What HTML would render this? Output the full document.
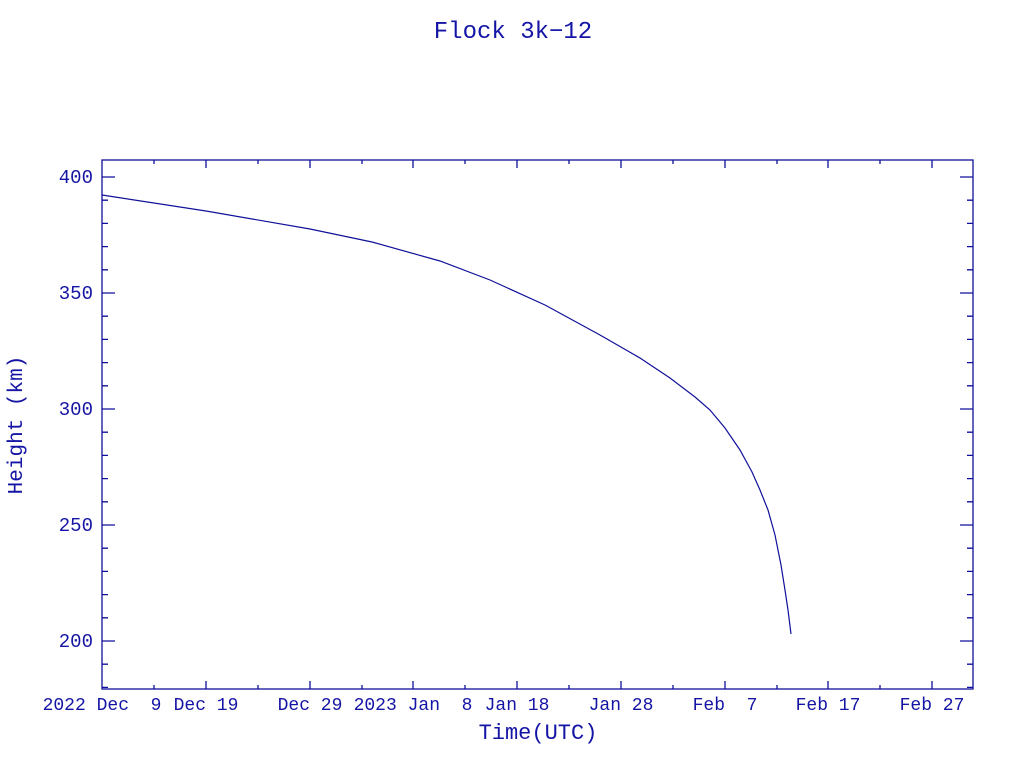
<!DOCTYPE html>
<html><head><style>body{margin:0;background:#fff}text{white-space:pre}</style></head><body>
<svg width="1024" height="768" xmlns="http://www.w3.org/2000/svg" xml:space="preserve" font-family="Liberation Mono, monospace" fill="#1515a5">
<text x="513" y="38" font-size="24" text-anchor="middle">Flock 3k−12</text>
<g stroke="#10109a" stroke-width="1.3" fill="none">
<rect x="102" y="160" width="871" height="529"/>
<path d="M154,689v-4M258,689v-4M362,689v-4M465,689v-4M569,689v-4M673,689v-4M777,689v-4M880,689v-4
M206,689v-8M310,689v-8M413,689v-8M517,689v-8M621,689v-8M725,689v-8M828,689v-8M932,689v-8
M154,160v4M258,160v4M362,160v4M465,160v4M569,160v4M673,160v4M777,160v4M880,160v4
M206,160v8M310,160v8M413,160v8M517,160v8M621,160v8M725,160v8M828,160v8M932,160v8"/>
<path d="M102,177h13M102,293h13M102,409h13M102,525h13M102,641h13M973,177h-13M973,293h-13M973,409h-13M973,525h-13M973,641h-13"/>
<path d="M102,200.2h6M102,223.4h6M102,246.6h6M102,269.8h6M102,316.2h6M102,339.4h6M102,362.6h6M102,385.8h6M102,432.2h6M102,455.4h6M102,478.6h6M102,501.8h6M102,548.2h6M102,571.4h6M102,594.6h6M102,617.8h6M102,664.2h6M102,687.4h6
M973,200.2h-6M973,223.4h-6M973,246.6h-6M973,269.8h-6M973,316.2h-6M973,339.4h-6M973,362.6h-6M973,385.8h-6M973,432.2h-6M973,455.4h-6M973,478.6h-6M973,501.8h-6M973,548.2h-6M973,571.4h-6M973,594.6h-6M973,617.8h-6M973,664.2h-6M973,687.4h-6"/>
<path stroke-width="1.2" d="M102,195 L206,211 L310,229 L372,242 L440,261 L490,280 L545,305 L600,335 L640,358 L670,378 L695,397 L710,410 L725,428 L740,450 L752,472 L760,490 L768,510 L775,535 L781,565 L785,590 L788,610 L791,634"/>
</g>
<g font-size="19" text-anchor="end">
<text x="93" y="183">400</text><text x="93" y="299">350</text><text x="93" y="415">300</text><text x="93" y="531">250</text><text x="93" y="647">200</text>
</g>
<g font-size="18" text-anchor="middle">
<text x="102" y="710">2022 Dec  9</text>
<text x="206" y="710">Dec 19</text><text x="310" y="710">Dec 29</text><text x="413" y="710">2023 Jan  8</text><text x="517" y="710">Jan 18</text><text x="621" y="710">Jan 28</text><text x="725" y="710">Feb  7</text><text x="828" y="710">Feb 17</text><text x="932" y="710">Feb 27</text>
</g>
<text x="538" y="739" font-size="22" text-anchor="middle">Time(UTC)</text>
<text transform="translate(22,425) rotate(-90)" font-size="21" text-anchor="middle">Height (km)</text>
</svg>
</body></html>
